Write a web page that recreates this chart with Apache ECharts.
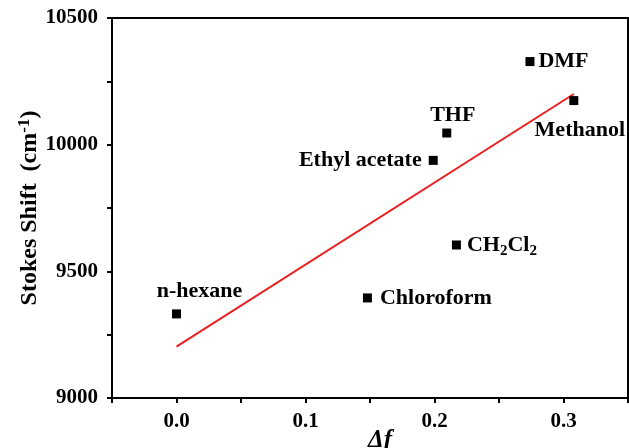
<!DOCTYPE html>
<html>
<head>
<meta charset="utf-8">
<script src="https://cdn.jsdelivr.net/npm/echarts@6/dist/echarts.min.js"></script>
<style>html,body{margin:0;padding:0;background:#fff}#c{width:629px;height:448px}</style>
</head>
<body>
<div id="c"></div>
<script>
var solvents = ['n-hexane', 'Chloroform', 'CH2Cl2', 'Ethyl acetate', 'THF', 'DMF', 'Methanol'];
var deltaF = [0.0, 0.148, 0.217, 0.199, 0.2095, 0.274, 0.308];
var stokesShift = [9332, 9395, 9604, 9938, 10046, 10328, 10174];
var fitX = [0.0, 0.308];
var fitY = [9203, 10200];
var xTicks = [0.0, 0.1, 0.2, 0.3];
var yTicks = [9000, 9500, 10000, 10500];

var FONT = 'Liberation Serif';
var labelCfg = {
  'n-hexane': {position: 'inside', offset: [23, -23]},
  'Chloroform': {position: 'right', distance: 8},
  'CH2Cl2': {position: 'right', distance: 6, formatter: 'CH{sub|2}Cl{sub|2}'},
  'Ethyl acetate': {position: 'left', distance: 7},
  'THF': {position: 'inside', offset: [6, -18]},
  'DMF': {position: 'right', distance: 4},
  'Methanol': {position: 'inside', offset: [6, 30]}
};

var pts = solvents.map(function (s, i) {
  var c = labelCfg[s];
  var lab = {
    show: true,
    position: c.position,
    color: '#000',
    fontFamily: FONT,
    fontWeight: 'bold',
    fontSize: 22,
    formatter: c.formatter || s,
    rich: {sub: {fontSize: 15, fontFamily: FONT, fontWeight: 'bold', color: '#000', verticalAlign: 'bottom', padding: [12, 0, 0, 0]}}
  };
  if (c.distance !== undefined) lab.distance = c.distance;
  if (c.offset) lab.offset = c.offset;
  return {value: [deltaF[i], stokesShift[i]], label: lab};
});

function isTick(v, list) {
  for (var i = 0; i < list.length; i++) if (Math.abs(v - list[i]) < 1e-6) return true;
  return false;
}

var chart = echarts.init(document.getElementById('c'), null, {renderer: 'canvas'});
chart.setOption({
  animation: false,
  backgroundColor: '#fff',
  grid: {left: 112, right: 1, top: 18, bottom: 50, show: true, borderColor: '#000', borderWidth: 2,
    backgroundColor: 'transparent', containLabel: false, outerBoundsMode: 'none'},
  xAxis: {
    type: 'value', min: -0.05, max: 0.35, interval: 0.05,
    name: 'Δf', nameLocation: 'middle', nameGap: 30, nameMoveOverlap: false,
    nameTextStyle: {fontFamily: FONT, fontStyle: 'italic', fontWeight: 'bold', fontSize: 25, color: '#000', padding: [0, 0, 0, 20]},
    axisLine: {onZero: false, lineStyle: {color: '#000', width: 2}},
    axisTick: {inside: false, length: 5, lineStyle: {color: '#000', width: 2}},
    axisLabel: {margin: 13, color: '#000', fontFamily: FONT, fontWeight: 'bold', fontSize: 21,
      formatter: function (v) { return isTick(v, xTicks) ? v.toFixed(1) : ''; }},
    splitLine: {show: false}
  },
  yAxis: {
    type: 'value', min: 9000, max: 10500, interval: 250,
    name: 'Stokes Shift  (cm{sup|-1})', nameLocation: 'middle', nameGap: 69, nameRotate: 90, nameMoveOverlap: false,
    nameTextStyle: {fontFamily: FONT, fontWeight: 'bold', fontSize: 24, color: '#000',
      rich: {sup: {fontSize: 17, fontFamily: FONT, fontWeight: 'bold', color: '#000', verticalAlign: 'top', padding: [0, 0, 10, 0]}}},
    axisLine: {onZero: false, lineStyle: {color: '#000', width: 2}},
    axisTick: {inside: false, length: 5, lineStyle: {color: '#000', width: 2}},
    axisLabel: {margin: 14, color: '#000', fontFamily: FONT, fontWeight: 'bold', fontSize: 21,
      formatter: function (v) { return isTick(v, yTicks) ? String(v) : ''; }},
    splitLine: {show: false}
  },
  series: [
    {
      type: 'line',
      data: fitX.map(function (x, i) { return [x, fitY[i]]; }),
      showSymbol: false,
      lineStyle: {color: '#e8201f', width: 2},
      z: 2
    },
    {
      type: 'scatter',
      symbol: 'rect',
      symbolSize: 9,
      itemStyle: {color: '#000', opacity: 1},
      data: pts,
      z: 3
    }
  ]
});
</script>
</body>
</html>
